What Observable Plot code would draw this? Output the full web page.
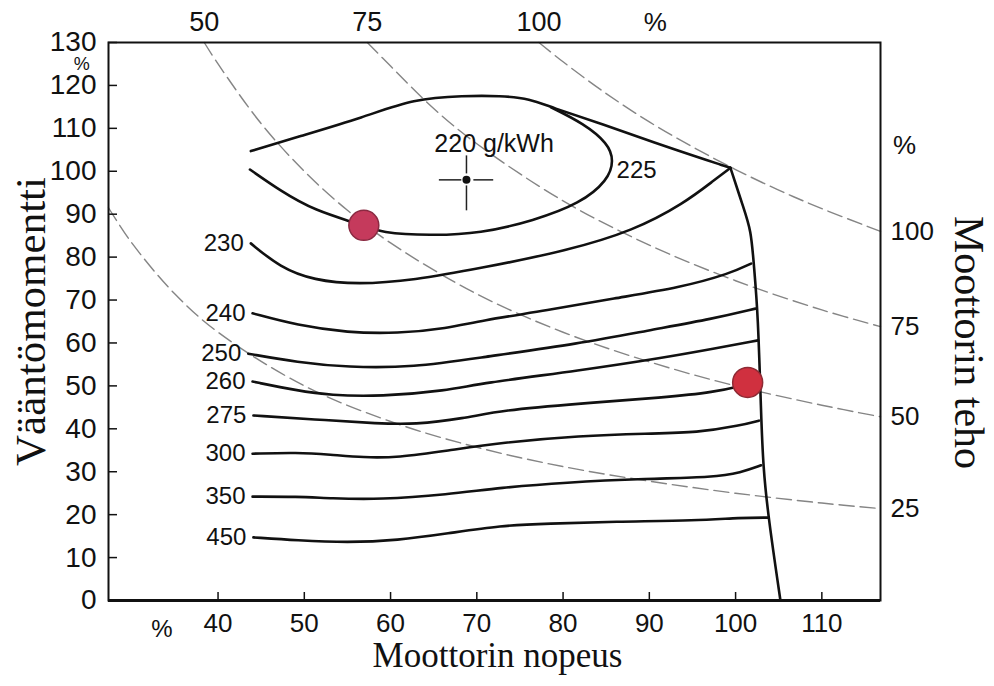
<!DOCTYPE html>
<html><head><meta charset="utf-8">
<script src="https://cdn.jsdelivr.net/npm/d3@7"></script>
<script src="https://cdn.jsdelivr.net/npm/@observablehq/plot@0.6"></script>
<style>
body{margin:0;background:#fff;}
#chart{width:994px;height:686px;}
</style></head><body><div id="chart"></div>
<script>
// ---- axes ----
const speedTicks = [40, 50, 60, 70, 80, 90, 100, 110];
const torqueTicks = [0, 10, 20, 30, 40, 50, 60, 70, 80, 90, 100, 110, 120, 130];

// ---- iso-power lines (power %), points [speed %, torque %] ----
const powerLevels = ["25", "50", "75", "100"];
const power25 = [[27.3, 91.5], [30, 83.3], [35, 71.4], [40, 62.5], [50, 50], [60, 41.7], [70, 35.7], [80, 31.2], [90, 27.8], [100, 25], [110, 22.7], [116.8, 21.4]];
const power50 = [[38.4, 130], [40, 125], [45, 111.1], [50, 100], [55, 90.9], [60, 83.3], [70, 71.4], [80, 62.5], [90, 55.6], [100, 50], [110, 45.5], [116.8, 42.8]];
const power75 = [[57.3, 130], [60, 124.5], [65, 114.6], [70, 106.4], [80, 93.1], [90, 82.8], [100, 74.5], [110, 67.7], [116.8, 63.8]];
const power100 = [[77.2, 130], [80, 125.5], [85, 118.1], [90, 111.5], [95, 105.7], [100, 100.4], [105, 95.6], [110, 91.3], [116.8, 86.0]];

// ---- full-load torque curve and governor line ----
const fullLoad = [[43.8, 104.7], [49.2, 108.0], [56.9, 112.6], [62.7, 116.9], [68.5, 117.6], [72.75, 117.6], [76.2, 116.9], [78.6, 114.9], [84.4, 111.1], [92.1, 105.6], [99.4, 100.8]];
const governor = [[99.4, 100.8], [100.9, 91.6], [101.8, 86.2], [102.1, 78.5], [102.6, 66.9], [102.95, 43.6], [103.2, 31.0], [103.8, 19.3], [105.2, 0]];

// ---- specific fuel consumption contours (g/kWh) ----
const bsfc225 = [[78.6, 114.9], [82.4, 111.1], [85.2, 106.5], [85.9, 102.5], [85.2, 97.9], [82.0, 92.5], [76.6, 88.5], [70.4, 85.5], [64.6, 85.0], [58.8, 85.7], [56.9, 87.4], [51.1, 90.9], [47.2, 95.5], [43.7, 100.4]];
const bsfc230 = [[43.8, 83.2], [47.2, 77.6], [51.1, 74.6], [56.2, 73.6], [62.7, 74.6], [70.4, 77.4], [80.5, 81.5], [88.2, 86.2], [94.0, 92.5], [97.5, 97.9], [99.4, 100.8]];
const bsfc240 = [[44.0, 66.9], [49.2, 64.1], [55.0, 62.4], [60.8, 62.2], [66.6, 63.4], [70.4, 65.2], [78.2, 67.6], [85.9, 70.4], [93.6, 72.9], [99.4, 76.2], [101.8, 78.5]];
const bsfc250 = [[43.5, 57.5], [49.2, 55.5], [55.0, 54.3], [62.7, 54.3], [70.4, 56.6], [82.0, 59.9], [89.8, 62.9], [97.5, 65.7], [102.3, 68.0]];
const bsfc260 = [[44.0, 51.0], [49.2, 48.9], [53.0, 47.8], [58.8, 47.5], [66.6, 48.9], [70.4, 50.6], [82.0, 53.6], [91.7, 56.6], [97.5, 58.7], [102.6, 60.6]];
const bsfc275 = [[44.1, 43.1], [51.1, 42.2], [58.8, 41.2], [62.7, 41.0], [68.5, 42.4], [72.8, 44.3], [82.0, 45.9], [91.7, 47.3], [97.5, 48.5], [101.2, 50.3]];
const bsfc300 = [[44.0, 34.2], [49.2, 34.5], [53.0, 34.0], [56.9, 33.3], [60.8, 33.3], [66.6, 34.9], [72.8, 36.8], [82.0, 38.4], [89.8, 38.9], [95.6, 39.1], [100.6, 40.8], [102.7, 41.9]];
const bsfc350 = [[44.0, 24.2], [49.2, 24.2], [53.0, 23.8], [58.8, 23.5], [66.6, 24.7], [72.8, 26.3], [80.1, 27.5], [89.8, 28.4], [97.5, 28.7], [100.6, 29.8], [102.95, 31.5]];
const bsfc450 = [[44.1, 14.7], [49.2, 14.0], [55.0, 13.5], [60.8, 14.0], [66.6, 15.6], [72.8, 17.5], [78.2, 17.9], [85.9, 18.4], [95.6, 18.6], [100.6, 19.3], [103.8, 19.3]];
const contourLabels = ["230", "240", "250", "260", "275", "300", "350", "450"];

// best-efficiency point 220 g/kWh, label of the 225 loop, and two operating points
const bestPoint = [[68.8, 98.0]];
const bestCrossH = [[65.6, 68.2], [69.6, 71.9]];   // torque = 98.0
const bestCrossV = [[103.7, 99.5], [96.7, 90.9]];  // speed = 68.8
const bestLabel = [{x: 72.0, y: 106.4, text: "220 g/kWh"}];
const loopLabel = [{x: 86.2, y: 100.2, text: "225"}];
const operatingPointA = [[56.9, 87.4]];
const operatingPointB = [[101.4, 50.8]];
const unitMarks = [
  {x: 24.2, y: 125.0, text: "%", size: 18},
  {x: 33.5, y: -6.6, text: "%", size: 24},
  {x: 90.7, y: 134.7, text: "%", size: 26},
  {x: 119.6, y: 106.0, text: "%", size: 26}
];

// ---- build tables ----
const powerCurves = [power25, power50, power75, power100];
const powerRows = powerCurves.flatMap((c, i) => c.map(([n, t]) => ({n, t, level: powerLevels[i]})));
const topLabels = powerCurves.map((c, i) => ({n: c[0][0], t: c[0][1], level: powerLevels[i]})).filter(d => d.t >= 130);
const rightLabels = powerCurves.map((c, i) => ({n: c[c.length - 1][0], t: c[c.length - 1][1], level: powerLevels[i]}));

const labelled = [bsfc230, bsfc240, bsfc250, bsfc260, bsfc275, bsfc300, bsfc350, bsfc450];
const solidCurves = [fullLoad, governor, bsfc225, ...labelled];
const solidRows = solidCurves.flatMap((c, i) => c.map(([n, t]) => ({n, t, id: i})));
const contourStarts = labelled.map((c, i) => ({n: c[0][0], t: c[0][1], text: contourLabels[i]}));

const sans = "'Liberation Sans', Arial, Helvetica, sans-serif";
const serif = "'Liberation Serif', 'Times New Roman', serif";

const W = 994, H = 686, mL = 108, mR = 114, mT = 42, mB = 86;
const frameW = W - mL - mR, frameH = H - mT - mB;

const chart = Plot.plot({
  width: W, height: H,
  marginLeft: mL, marginRight: mR, marginTop: mT, marginBottom: mB,
  x: {domain: [27.3, 116.8]},
  y: {domain: [0, 130]},
  style: {fontFamily: sans, fontSize: "24px", color: "#111", background: "#fff"},
  marks: [
    // iso-power dashed lines
    Plot.line(powerRows, {x: "n", y: "t", z: "level", curve: "catmull-rom", stroke: "#858585", strokeWidth: 1.4, strokeDasharray: "15,6"}),
    // contours
    Plot.line(solidRows, {x: "n", y: "t", z: "id", curve: "basis", stroke: "#111", strokeWidth: 2.6}),
    // inward ticks
    Plot.tickY(torqueTicks, {y: d => d, insetRight: frameW - 9, stroke: "#111", strokeWidth: 1.5}),
    Plot.tickX(speedTicks, {x: d => d, insetTop: frameH - 8, stroke: "#111", strokeWidth: 1.5}),
    Plot.frame({stroke: "#111", strokeWidth: 2}),
    Plot.ruleY([0], {stroke: "#111", strokeWidth: 3}),
    // axes labels
    Plot.axisY(torqueTicks, {anchor: "left", tickSize: 0, tickPadding: 12, label: null, fontSize: 28}),
    Plot.axisX(speedTicks, {anchor: "bottom", tickSize: 0, tickPadding: 13, label: null, fontSize: 26}),
    // power labels
    Plot.text(topLabels, {x: "n", y: "t", text: "level", dy: -20, fontSize: 27}),
    Plot.text(rightLabels, {x: "n", y: "t", text: "level", dx: 10, textAnchor: "start", fontSize: 26}),
    Plot.text(unitMarks, {x: "x", y: "y", text: "text", fontSize: "size"}),
    // contour labels
    Plot.text(contourStarts, {x: "n", y: "t", text: "text", dx: -7, textAnchor: "end", fontSize: 24}),
    Plot.text(loopLabel, {x: "x", y: "y", text: "text", textAnchor: "start", fontSize: 24}),
    Plot.text(bestLabel, {x: "x", y: "y", text: "text", fontSize: 25}),
    // best point cross
    Plot.link(bestCrossH, {x1: d => d[0], x2: d => d[1], y1: bestPoint[0][1], y2: bestPoint[0][1], stroke: "#222", strokeWidth: 1.5}),
    Plot.link(bestCrossV, {x1: bestPoint[0][0], x2: bestPoint[0][0], y1: d => d[0], y2: d => d[1], stroke: "#222", strokeWidth: 1.5}),
    Plot.dot(bestPoint, {x: d => d[0], y: d => d[1], r: 4, fill: "#111"}),
    // operating points
    Plot.dot(operatingPointA, {x: d => d[0], y: d => d[1], r: 15, fill: "#c53a5c", stroke: "#8a2a42", strokeWidth: 1.5}),
    Plot.dot(operatingPointB, {x: d => d[0], y: d => d[1], r: 15, fill: "#d0303f", stroke: "#8e2a34", strokeWidth: 1.5}),
    // titles
    Plot.text(["Vääntömomentti"], {frameAnchor: "left", textAnchor: "middle", dx: -77, rotate: -90, fontFamily: serif, fontSize: 43}),
    Plot.text(["Moottorin nopeus"], {frameAnchor: "bottom", textAnchor: "middle", dy: 66, dx: 3, fontFamily: serif, fontSize: 35}),
    Plot.text(["Moottorin teho"], {frameAnchor: "right", textAnchor: "middle", dx: 88, dy: 21, rotate: 90, fontFamily: serif, fontSize: 42})
  ]
});
document.getElementById("chart").appendChild(chart);
</script>
</body></html>
